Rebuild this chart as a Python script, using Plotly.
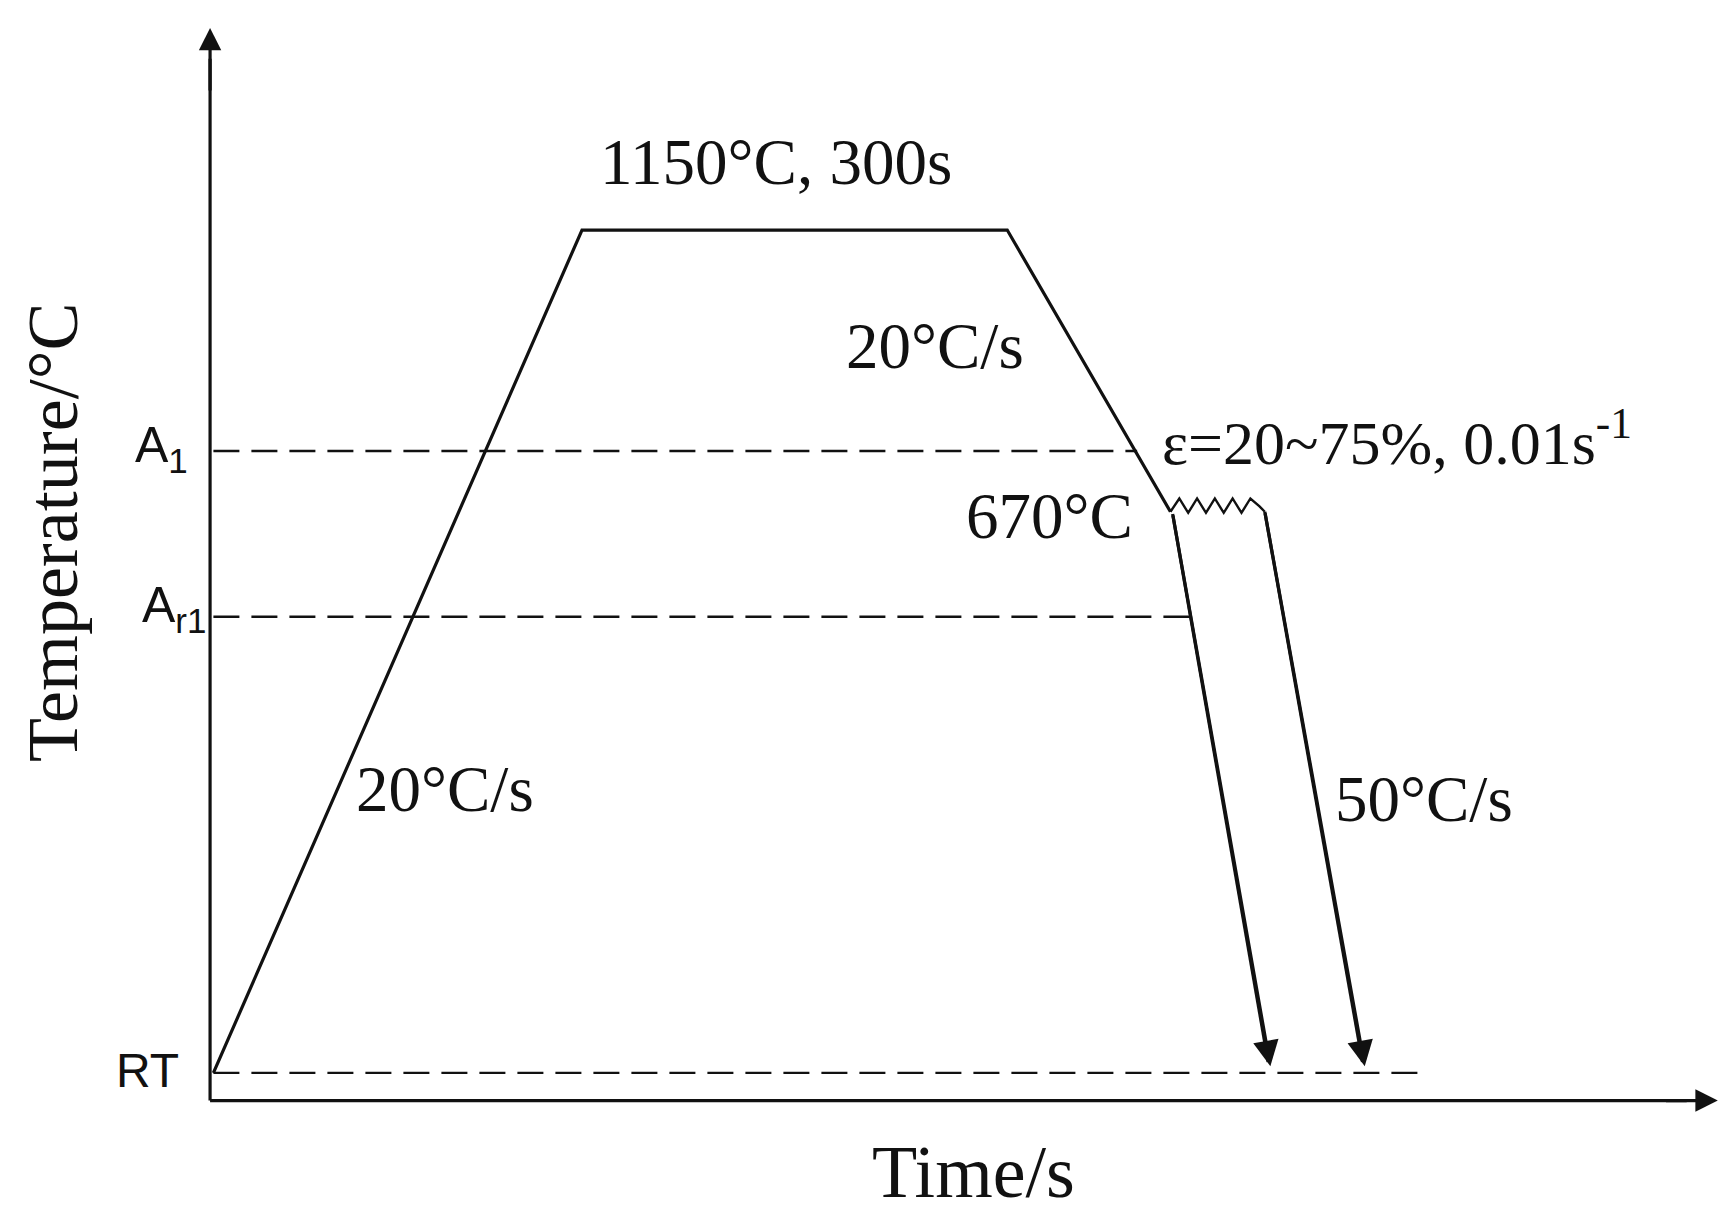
import plotly.graph_objects as go

# process schedule in drawing units (x: time, y: temperature, y grows downward)
heat_x = [193, 525, 908, 1055]
heat_y = [968, 205, 205, 460]
zig_x = [1055, 1063, 1071, 1079, 1087, 1095, 1103, 1111, 1119, 1127, 1135, 1140]
zig_y = [460, 448, 461, 448, 461, 448, 461, 448, 461, 448, 455, 460]
quench1 = ([1057, 1143], [462, 958])
quench2 = ([1140, 1228], [460, 958])
levels = {"A1": (405, 1025), "Ar1": (555, 1072), "RT": (968, 1285)}
x_origin, y_origin = 190, 993

SERIF = "Liberation Serif"
SANS = "Liberation Sans"
BLACK = "#111"

fig = go.Figure()
line = dict(color=BLACK, width=3.2)
fig.add_trace(go.Scatter(x=heat_x, y=heat_y, mode="lines", line=line))
fig.add_trace(go.Scatter(x=zig_x, y=zig_y, mode="lines", line=dict(color=BLACK, width=2.4)))
for qx, qy in (quench1, quench2):
    fig.add_trace(go.Scatter(x=qx, y=qy, mode="lines", line=line))
for name, (yv, xend) in levels.items():
    fig.add_trace(go.Scatter(x=[x_origin + 3, xend], y=[yv, yv], mode="lines",
                             line=dict(color=BLACK, width=2.4, dash="26px,12px")))

# axes with arrows
fig.add_trace(go.Scatter(x=[x_origin, x_origin], y=[y_origin, 50], mode="lines", line=line))
fig.add_trace(go.Scatter(x=[x_origin, 1520], y=[y_origin, y_origin], mode="lines", line=line))

def arrow(x0, y0, x1, y1, size=1.6):
    fig.add_annotation(x=x1, y=y1, ax=x0, ay=y0, xref="x", yref="y", axref="x", ayref="y",
                       showarrow=True, arrowhead=2, arrowsize=size, arrowwidth=3.2,
                       arrowcolor=BLACK, text="")

arrow(x_origin, 80, x_origin, 22, 1.4)
arrow(1500, y_origin, 1548, y_origin, 1.4)
arrow(quench1[0][0], quench1[1][0], 1145, 962)
arrow(quench2[0][0], quench2[1][0], 1230, 962)

def txt(x, y, s, size=65, font=SERIF, anchor="center", angle=0):
    fig.add_annotation(x=x, y=y, text=s, showarrow=False, xanchor=anchor, yanchor="middle",
                       textangle=angle, font=dict(family=font, size=size, color=BLACK))

txt(700, 143, "1150°C, 300s")
txt(843, 310, "20°C/s")
txt(1046, 393, "ε=20~75%, 0.01s<sup>-1</sup>", anchor="left", size=62)
txt(946, 464, "670°C")
txt(402, 711, "20°C/s")
txt(1283, 720, "50°C/s")
txt(878, 1058, "Time/s", size=74)
txt(48, 478, "Temperature/°C", size=72, angle=-90)
txt(172, 403, "A<sub>1</sub>", size=50, font=SANS, anchor="right")
txt(188, 548, "A<sub>r1</sub>", size=50, font=SANS, anchor="right")
txt(164, 966, "RT", size=48, font=SANS, anchor="right")

fig.update_layout(
    width=1732, height=1224, showlegend=False,
    paper_bgcolor="white", plot_bgcolor="white",
    margin=dict(l=0, r=0, t=0, b=0),
    xaxis=dict(range=[8, 1568], visible=False, fixedrange=True),
    yaxis=dict(range=[1112, 4], visible=False, fixedrange=True),
)
fig.write_html("out.html")
